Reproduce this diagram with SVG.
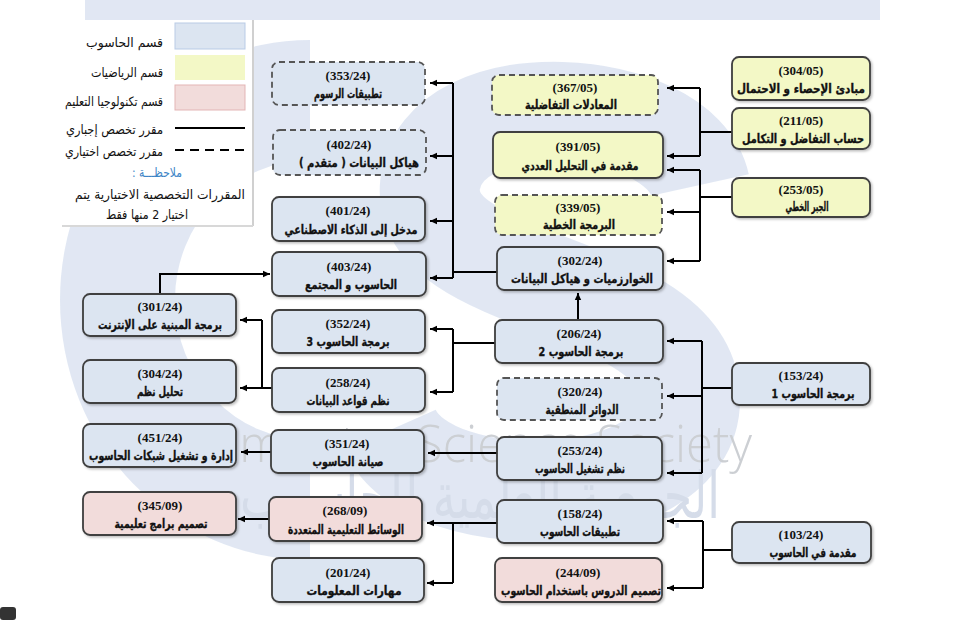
<svg xmlns="http://www.w3.org/2000/svg" width="977" height="620" viewBox="0 0 977 620">
<defs>
<style>
.bx{stroke:#3f3f3f;stroke-width:1.8}
.bl{fill:#dce5f1}
.ye{fill:#f3f8c6}
.pk{fill:#f2dcdb}
.da{stroke:#555;stroke-dasharray:6 4}
.code{font-family:"Liberation Serif","Times New Roman",serif;font-weight:bold;font-size:13px;text-anchor:middle;fill:#111}
.ar{font-family:"DejaVu Sans",sans-serif;font-weight:bold;font-size:12.5px;text-anchor:middle;direction:rtl;fill:#111;stroke:#111;stroke-width:0.35}
.lg{font-family:"DejaVu Sans",sans-serif;font-size:13px;text-anchor:start;direction:rtl;fill:#111}
.c{fill:none;stroke:#000;stroke-width:2}
.a{fill:none;stroke:#000;stroke-width:2;marker-end:url(#ah)}
</style>
<marker id="ah" markerWidth="8" markerHeight="8" refX="7" refY="4" orient="auto" markerUnits="userSpaceOnUse"><path d="M0,0.8 L7,4 L0,7.2 Z" fill="#000"/></marker>
<filter id="sh" x="-10%" y="-10%" width="130%" height="140%"><feDropShadow dx="1.5" dy="1.5" stdDeviation="1" flood-color="#000" flood-opacity="0.25"/></filter>
</defs>
<rect width="977" height="620" fill="#fff"/>
<g id="watermark" opacity="0.55">
<rect x="85" y="0" width="795" height="20" fill="#c9d5ea"/>
<path d="M310,40 A250,260 0 1 0 310,560 L310,440 A135,140 0 1 1 310,160 Z" fill="#c9d5ea"/>
<path d="M700,185 C680,95 440,80 430,185 C420,290 690,280 690,400 C690,510 430,520 390,430" fill="none" stroke="#c9d5ea" stroke-width="100"/>
<text x="180" y="462" font-family="Open Sans, sans-serif" font-weight="300" font-size="52" fill="#a3a8b0" textLength="572" lengthAdjust="spacingAndGlyphs">Computer Science Society</text>
<text x="480" y="518" font-family="DejaVu Sans, sans-serif" font-size="64" fill="#b3c0d8" text-anchor="middle" direction="rtl" textLength="480" lengthAdjust="spacingAndGlyphs">الجمعية العلمية للحاسوب</text>
</g>
<g id="legend">
<rect x="62" y="20" width="190" height="205" fill="#fff"/>
<line x1="253" y1="20" x2="253" y2="226" stroke="#d0d0d0" stroke-width="2"/>
<line x1="62" y1="226" x2="253" y2="226" stroke="#d8d8d8" stroke-width="2"/>
<rect x="175" y="23" width="70" height="26" fill="#dce5f1" stroke="#b9cbe6" stroke-width="1"/>
<rect x="175" y="55" width="70" height="25" fill="#f3f8c6"/>
<rect x="175" y="85" width="70" height="25" fill="#f2dcdb" stroke="#e3b5b5" stroke-width="1"/>
<line x1="175" y1="128" x2="245" y2="128" stroke="#000" stroke-width="2"/>
<line x1="175" y1="150" x2="245" y2="150" stroke="#000" stroke-width="2" stroke-dasharray="9 6"/>
<text class="lg" x="163" y="47" textLength="77" lengthAdjust="spacingAndGlyphs">قسم الحاسوب</text>
<text class="lg" x="163" y="77" textLength="72" lengthAdjust="spacingAndGlyphs">قسم الرياضيات</text>
<text class="lg" x="163" y="106" textLength="98" lengthAdjust="spacingAndGlyphs">قسم تكنولوجيا التعليم</text>
<text class="lg" x="163" y="134" textLength="97" lengthAdjust="spacingAndGlyphs">مقرر تخصص إجباري</text>
<text class="lg" x="163" y="156" textLength="98" lengthAdjust="spacingAndGlyphs">مقرر تخصص اختياري</text>
<text class="lg" x="157" y="177" style="text-anchor:middle;fill:#3d85c6" textLength="50" lengthAdjust="spacingAndGlyphs">ملاحظـــة :&#x200F;</text>
<text class="lg" x="160" y="199" style="text-anchor:middle" textLength="170" lengthAdjust="spacingAndGlyphs">المقررات التخصصية الاختيارية يتم</text>
<text class="lg" x="147" y="219" style="text-anchor:middle" textLength="82" lengthAdjust="spacingAndGlyphs">اختيار 2 منها فقط</text>
</g>
<g id="connectors">
<path class="c" d="M732,132 H700 M700,88 V156"/>
<path class="a" d="M700,88 H667"/>
<path class="a" d="M700,156 H667"/>
<path class="c" d="M732,197 H700 M700,170 V261"/>
<path class="a" d="M700,170 H667"/>
<path class="a" d="M700,212 H667"/>
<path class="a" d="M700,261 H667"/>
<path class="c" d="M497,272 H453 M453,83 V278"/>
<path class="a" d="M453,83 H430"/>
<path class="a" d="M453,156 H430"/>
<path class="a" d="M453,221 H430"/>
<path class="a" d="M453,278 H430"/>
<path class="a" d="M160,294 V274 H270"/>
<path class="a" d="M578,320 V293"/>
<path class="c" d="M495,343 H453 M453,329 V392"/>
<path class="a" d="M453,329 H430"/>
<path class="a" d="M453,392 H430"/>
<path class="c" d="M272,388 H262 M262,320 V388"/>
<path class="a" d="M262,320 H240"/>
<path class="a" d="M262,388 H240"/>
<path class="a" d="M272,452 H241"/>
<path class="a" d="M497,453 H428"/>
<path class="c" d="M732,388 H702 M702,341 V473"/>
<path class="a" d="M702,341 H667"/>
<path class="a" d="M702,396 H667"/>
<path class="a" d="M702,473 H667"/>
<path class="c" d="M732,550 H703 M703,521 V588"/>
<path class="a" d="M703,521 H667"/>
<path class="a" d="M703,588 H667"/>
<path class="c" d="M497,523 H453 V583"/>
<path class="a" d="M453,523 H427"/>
<path class="a" d="M453,583 H427"/>
<path class="a" d="M269,519 H238"/>
</g>
<g id="n301"><rect class="bx bl" x="83" y="294" width="153" height="42" rx="7" filter="url(#sh)"/><text class="code" x="160" y="311">(301/24)</text><text class="ar" x="160" y="329" textLength="124" lengthAdjust="spacingAndGlyphs">برمجة المبنية على الإنترنت</text></g>
<g id="n304"><rect class="bx bl" x="83" y="360" width="153" height="43" rx="7" filter="url(#sh)"/><text class="code" x="160" y="378">(304/24)</text><text class="ar" x="160" y="396" textLength="46" lengthAdjust="spacingAndGlyphs">تحليل نظم</text></g>
<g id="n451"><rect class="bx bl" x="83" y="424" width="153" height="43" rx="7" filter="url(#sh)"/><text class="code" x="160" y="442">(451/24)</text><text class="ar" x="161" y="460" textLength="144" lengthAdjust="spacingAndGlyphs">إدارة و تشغيل شبكات الحاسوب</text></g>
<g id="n345"><rect class="bx pk" x="83" y="492" width="153" height="43" rx="7" filter="url(#sh)"/><text class="code" x="160" y="510">(345/09)</text><text class="ar" x="161" y="528" textLength="93" lengthAdjust="spacingAndGlyphs">تصميم برامج تعليمية</text></g>
<g id="n353"><rect class="bx bl da" x="272" y="62" width="153" height="43" rx="7"/><text class="code" x="348" y="80">(353/24)</text><text class="ar" x="348" y="98" textLength="68" lengthAdjust="spacingAndGlyphs">تطبيقات الرسوم</text></g>
<g id="n402"><rect class="bx bl da" x="273" y="130" width="153" height="45" rx="7"/><text class="code" x="349" y="149">(402/24)</text><text class="ar" x="359" y="167" textLength="120" lengthAdjust="spacingAndGlyphs">هياكل البيانات ( متقدم )</text></g>
<g id="n401"><rect class="bx bl" x="272" y="197" width="153" height="44" rx="7" filter="url(#sh)"/><text class="code" x="348" y="215">(401/24)</text><text class="ar" x="351" y="234" textLength="133" lengthAdjust="spacingAndGlyphs">مدخل إلى الذكاء الاصطناعي</text></g>
<g id="n403"><rect class="bx bl" x="272" y="252" width="154" height="44" rx="7" filter="url(#sh)"/><text class="code" x="349" y="271">(403/24)</text><text class="ar" x="351" y="289" textLength="92" lengthAdjust="spacingAndGlyphs">الحاسوب و المجتمع</text></g>
<g id="n352"><rect class="bx bl" x="272" y="310" width="153" height="43" rx="7" filter="url(#sh)"/><text class="code" x="348" y="328">(352/24)</text><text class="ar" x="348" y="346" textLength="83" lengthAdjust="spacingAndGlyphs">برمجة الحاسوب 3</text></g>
<g id="n258"><rect class="bx bl" x="272" y="368" width="153" height="44" rx="7" filter="url(#sh)"/><text class="code" x="348" y="387">(258/24)</text><text class="ar" x="348" y="405" textLength="83" lengthAdjust="spacingAndGlyphs">نظم قواعد البيانات</text></g>
<g id="n351"><rect class="bx bl" x="271" y="430" width="153" height="43" rx="7" filter="url(#sh)"/><text class="code" x="347" y="448">(351/24)</text><text class="ar" x="348" y="466" textLength="71" lengthAdjust="spacingAndGlyphs">صيانة الحاسوب</text></g>
<g id="n268"><rect class="bx pk" x="269" y="497" width="153" height="44" rx="7" filter="url(#sh)"/><text class="code" x="345" y="515">(268/09)</text><text class="ar" x="346" y="534" textLength="116" lengthAdjust="spacingAndGlyphs">الوسائط التعليمية المتعددة</text></g>
<g id="n201"><rect class="bx bl" x="272" y="558" width="152" height="44" rx="7" filter="url(#sh)"/><text class="code" x="348" y="577">(201/24)</text><text class="ar" x="354" y="595" textLength="95" lengthAdjust="spacingAndGlyphs">مهارات المعلومات</text></g>
<g id="n367"><rect class="bx ye da" x="492" y="75" width="166" height="40" rx="7"/><text class="code" x="575" y="92">(367/05)</text><text class="ar" x="571" y="109" textLength="92" lengthAdjust="spacingAndGlyphs">المعادلات التفاضلية</text></g>
<g id="n391"><rect class="bx ye" x="493" y="132" width="170" height="46" rx="7" filter="url(#sh)"/><text class="code" x="578" y="151">(391/05)</text><text class="ar" x="580" y="170" textLength="117" lengthAdjust="spacingAndGlyphs">مقدمة في التحليل العددي</text></g>
<g id="n339"><rect class="bx ye da" x="495" y="195" width="167" height="40" rx="7"/><text class="code" x="578" y="212">(339/05)</text><text class="ar" x="579" y="229" textLength="72" lengthAdjust="spacingAndGlyphs">البرمجة الخطية</text></g>
<g id="n302"><rect class="bx bl" x="497" y="247" width="166" height="43" rx="7" filter="url(#sh)"/><text class="code" x="580" y="265">(302/24)</text><text class="ar" x="582" y="283" textLength="142" lengthAdjust="spacingAndGlyphs">الخوارزميات و هياكل البيانات</text></g>
<g id="n206"><rect class="bx bl" x="495" y="320" width="168" height="43" rx="7" filter="url(#sh)"/><text class="code" x="579" y="338">(206/24)</text><text class="ar" x="581" y="356" textLength="85" lengthAdjust="spacingAndGlyphs">برمجة الحاسوب 2</text></g>
<g id="n320"><rect class="bx bl da" x="497" y="378" width="165" height="42" rx="7"/><text class="code" x="580" y="396">(320/24)</text><text class="ar" x="582" y="414" textLength="73" lengthAdjust="spacingAndGlyphs">الدوائر المنطقية</text></g>
<g id="n253c"><rect class="bx bl" x="497" y="437" width="165" height="43" rx="7" filter="url(#sh)"/><text class="code" x="580" y="455">(253/24)</text><text class="ar" x="580" y="473" textLength="90" lengthAdjust="spacingAndGlyphs">نظم تشغيل الحاسوب</text></g>
<g id="n158"><rect class="bx bl" x="497" y="500" width="166" height="43" rx="7" filter="url(#sh)"/><text class="code" x="580" y="518">(158/24)</text><text class="ar" x="580" y="536" textLength="80" lengthAdjust="spacingAndGlyphs">تطبيقات الحاسوب</text></g>
<g id="n244"><rect class="bx pk" x="495" y="558" width="167" height="44" rx="7" filter="url(#sh)"/><text class="code" x="578" y="577">(244/09)</text><text class="ar" x="581" y="595" textLength="160" lengthAdjust="spacingAndGlyphs">تصميم الدروس باستخدام الحاسوب</text></g>
<g id="n304m"><rect class="bx ye" x="732" y="57" width="138" height="43" rx="7" filter="url(#sh)"/><text class="code" x="801" y="75">(304/05)</text><text class="ar" x="801" y="93" textLength="128" lengthAdjust="spacingAndGlyphs">مبادئ الإحصاء و الاحتمال</text></g>
<g id="n211"><rect class="bx ye" x="732" y="108" width="138" height="41" rx="7" filter="url(#sh)"/><text class="code" x="801" y="125">(211/05)</text><text class="ar" x="803" y="143" textLength="122" lengthAdjust="spacingAndGlyphs">حساب التفاضل و التكامل</text></g>
<g id="n253m"><rect class="bx ye" x="732" y="178" width="138" height="39" rx="7" filter="url(#sh)"/><text class="code" x="801" y="194">(253/05)</text><text class="ar" x="807" y="211" textLength="43" lengthAdjust="spacingAndGlyphs">الجبر الخطي</text></g>
<g id="n153"><rect class="bx bl" x="732" y="363" width="138" height="42" rx="7" filter="url(#sh)"/><text class="code" x="801" y="380">(153/24)</text><text class="ar" x="813" y="398" textLength="83" lengthAdjust="spacingAndGlyphs">برمجة الحاسوب 1</text></g>
<g id="n103"><rect class="bx bl" x="732" y="522" width="139" height="41" rx="7" filter="url(#sh)"/><text class="code" x="801" y="539">(103/24)</text><text class="ar" x="813" y="557" textLength="87" lengthAdjust="spacingAndGlyphs">مقدمة في الحاسوب</text></g>
<rect x="0" y="607" width="16" height="13" rx="3" fill="#333"/>
</svg>
